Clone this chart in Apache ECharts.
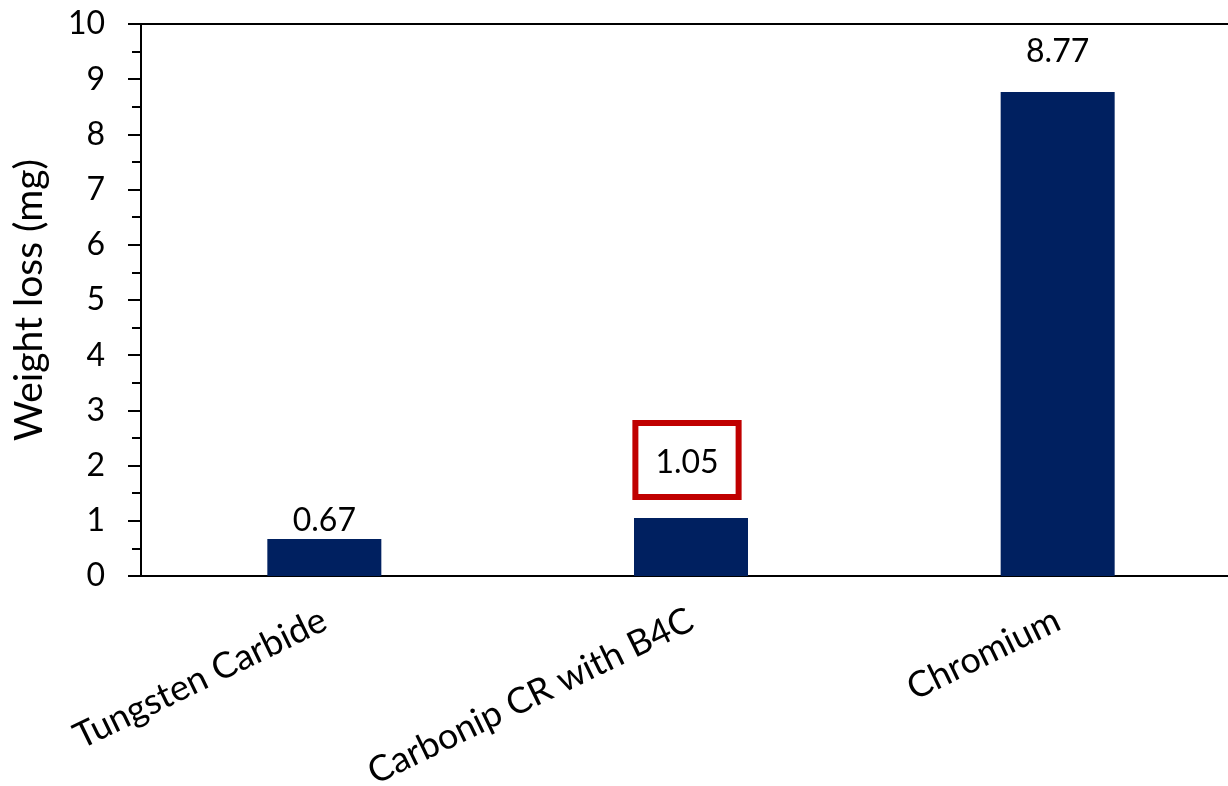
<!DOCTYPE html>
<html>
<head>
<meta charset="utf-8">
<style>
  html, body { margin: 0; padding: 0; background: #fff; overflow: hidden; }
  #chart { width: 1228px; height: 786px; }
</style>
<script src="https://cdn.jsdelivr.net/npm/echarts@6/dist/echarts.min.js"></script>
</head>
<body>
<div id="chart"></div>
<script>
// Coating materials and their measured weight loss (mg)
const categories = ['Tungsten Carbide', 'Carbonip CR with B4C', 'Chromium'];
const weightLoss = [0.67, 1.05, 8.77];
const yTicks = { min: 0, max: 10, interval: 1 };
// Index of the value that gets a highlight frame
const highlightIndex = 1;

const FONT = 'Lato, "Open Sans", sans-serif';

const barData = weightLoss.map((v, i) => {
  const item = { value: v };
  if (i === highlightIndex) {
    item.label = {
      borderColor: '#C00000',
      borderWidth: 6,
      padding: [24, 20, 18, 20],
      distance: 21,
      offset: [-4, 0]
    };
  } else if (i === weightLoss.length - 1) {
    item.label = { distance: 24 };
  }
  return item;
});

const chart = echarts.init(document.getElementById('chart'));
chart.setOption({
  animation: false,
  backgroundColor: '#ffffff',
  grid: {
    left: 141, width: 1100, top: 24, bottom: 210,
    outerBoundsMode: 'none',
    containLabel: false,
    show: true, borderColor: '#000', borderWidth: 2
  },
  xAxis: {
    type: 'category',
    data: categories,
    axisLine: { lineStyle: { color: '#000', width: 2 } },
    axisTick: { show: false },
    axisLabel: {
      rotate: 26,
      margin: 42,
      fontFamily: FONT,
      fontSize: 36,
      color: '#000',
      interval: 0
    }
  },
  yAxis: {
    type: 'value',
    min: yTicks.min, max: yTicks.max, interval: yTicks.interval,
    name: 'Weight loss (mg)',
    nameLocation: 'middle',
    nameGap: 92,
    nameTextStyle: { fontFamily: FONT, fontSize: 39, color: '#000' },
    axisLine: { show: true, lineStyle: { color: '#000', width: 2 } },
    axisTick: { show: true, length: 13, lineStyle: { color: '#000', width: 2 } },
    minorTick: { show: true, splitNumber: 2, length: 9, lineStyle: { color: '#000', width: 2 } },
    splitLine: { show: false },
    axisLabel: { fontFamily: FONT, fontSize: 32, color: '#000', margin: 36 }
  },
  series: [{
    type: 'bar',
    data: barData,
    barWidth: 114,
    itemStyle: { color: '#002060' },
    label: {
      show: true,
      position: 'top',
      distance: 2,
      fontFamily: FONT,
      fontSize: 32,
      color: '#000',
      formatter: p => p.value.toFixed(2)
    }
  }]
});
</script>
</body>
</html>
